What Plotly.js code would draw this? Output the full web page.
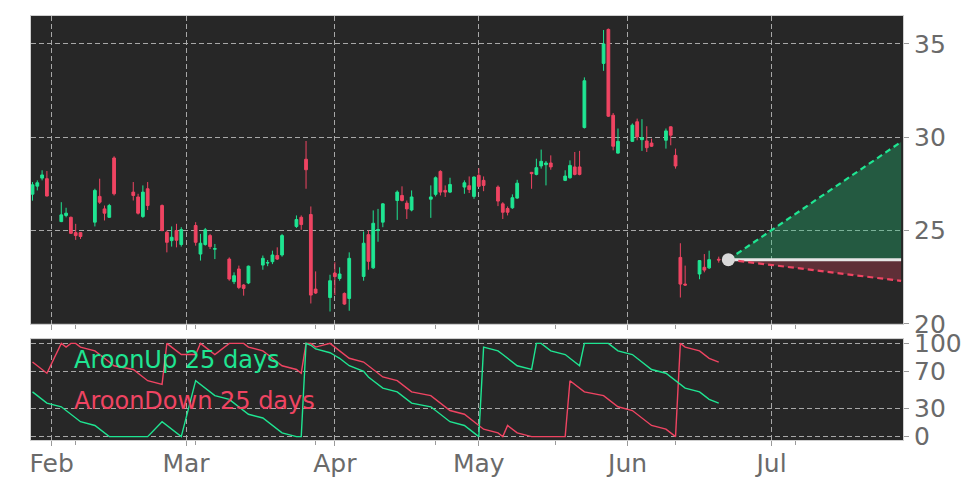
<!DOCTYPE html>
<html>
<head>
<meta charset="utf-8">
<script src="https://cdn.plot.ly/plotly-3.0.1.min.js"></script>
<style>
html,body{margin:0;padding:0;background:#ffffff;}
#chart{width:972px;height:486px;}
</style>
</head>
<body>
<div id="chart"></div>
<script>
// ---- data ----
const dates = ['2025-01-28','2025-01-29','2025-01-30','2025-01-31',
'2025-02-03','2025-02-04','2025-02-05','2025-02-06','2025-02-07',
'2025-02-10','2025-02-11','2025-02-12','2025-02-13','2025-02-14',
'2025-02-18','2025-02-19','2025-02-20','2025-02-21',
'2025-02-24','2025-02-25','2025-02-26','2025-02-27','2025-02-28',
'2025-03-03','2025-03-04','2025-03-05','2025-03-06','2025-03-07',
'2025-03-10','2025-03-11','2025-03-12','2025-03-13','2025-03-14',
'2025-03-17','2025-03-18','2025-03-19','2025-03-20','2025-03-21',
'2025-03-24','2025-03-25','2025-03-26','2025-03-27','2025-03-28',
'2025-03-31','2025-04-01','2025-04-02','2025-04-03','2025-04-04',
'2025-04-07','2025-04-08','2025-04-09','2025-04-10','2025-04-11',
'2025-04-14','2025-04-15','2025-04-16','2025-04-17',
'2025-04-21','2025-04-22','2025-04-23','2025-04-24','2025-04-25',
'2025-04-28','2025-04-29','2025-04-30','2025-05-01','2025-05-02',
'2025-05-05','2025-05-06','2025-05-07','2025-05-08','2025-05-09',
'2025-05-12','2025-05-13','2025-05-14','2025-05-15','2025-05-16',
'2025-05-19','2025-05-20','2025-05-21','2025-05-22','2025-05-23',
'2025-05-27','2025-05-28','2025-05-29','2025-05-30',
'2025-06-02','2025-06-03','2025-06-04','2025-06-05','2025-06-06',
'2025-06-09','2025-06-10','2025-06-11','2025-06-12','2025-06-13',
'2025-06-16','2025-06-17','2025-06-18','2025-06-20'];

const opens = [26.95,27.38,27.81,27.78, 25.48,25.81,25.71,24.89,24.89, 25.45,26.83,26.16,25.71,28.89,
27.06,26.8,25.75,27.24, 26.34,24.91,24.46,25.0,24.25, 25.27,23.74,24.25,24.73,24.0,
23.47,22.26,22.94,22.08,22.19, 23.15,23.26,23.33,23.66,23.69, 25.22,25.71,28.82,25.86,21.86,
21.41,22.72,22.43,21.63,21.36, 22.54,24.78,23.0,25.0,25.45, 26.61,26.88,26.47,26.1,
26.68,26.94,28.17,27.15,27.06, 27.33,27.4,26.83,27.96,27.69, 27.33,26.43,26.18,26.22,26.74,
28.12,28.01,28.46,28.53,28.62, 27.69,27.83,28.41,28.41,30.52, 33.96,35.78,31.18,29.15,
29.78,30.83,29.87,29.8,29.69, 29.84,30.56,29.03,23.56,22.13, 22.67,23.03,23.0,23.46];

const highs = [27.6,27.69,28.23,28.19, 26.52,26.22,25.75,25.36,24.89, 27.24,27.78,26.34,26.43,28.98,
27.6,26.97,27.42,27.6, 26.4,25.0,25.22,25.36,25.18, 25.45,24.82,25.14,24.82,24.28,
23.56,22.76,23.12,22.13,23.12, 23.66,23.42,23.92,24.1,24.82, 25.81,25.81,29.8,26.29,22.81,
22.63,23.3,23.03,21.68,23.83, 24.95,25.0,26.08,26.16,26.47, 27.15,27.37,26.61,27.15,
27.42,27.9,28.23,27.42,27.83, 27.69,27.9,27.9,28.34,27.9, 27.42,26.52,26.29,26.94,27.72,
28.14,28.85,29.34,28.73,29.03, 28.23,28.76,29.21,29.27,33.21, 35.75,35.83,31.3,30.47,
30.74,31.0,30.97,30.59,29.93, 30.47,30.59,29.39,24.32,23.12, 23.42,23.74,23.92,23.6];

const lows = [26.6,27.15,27.69,26.83, 25.45,25.71,24.82,24.5,24.55, 25.22,26.43,25.54,25.68,26.88,
26.61,25.86,25.68,26.1, 24.96,23.83,24.14,24.1,24.14, 24.19,23.39,24.19,24.01,23.47,
22.31,22.13,21.86,21.51,22.13, 22.9,23.09,23.2,23.42,23.6, 25.14,25.04,27.24,21.09,21.6,
20.66,21.54,22.31,21.02,20.7, 22.31,22.9,22.94,24.4,25.18, 25.57,26.56,25.62,26.03,
25.68,26.83,26.88,26.8,27.01, 26.97,27.01,26.7,27.33,27.11, 26.31,25.62,25.81,26.16,26.7,
27.24,27.96,28.32,27.42,28.26, 27.65,27.78,27.96,27.96,30.47, 33.56,31.09,29.3,29.12,
29.75,29.84,29.27,29.21,29.48, 29.39,29.57,28.32,21.41,22.04, 22.39,22.76,22.94,23.28];

const closes = [27.45,27.56,27.98,26.85, 25.84,25.93,24.85,24.73,24.68, 27.15,26.52,25.93,26.34,26.97,
26.88,25.93,27.06,26.34, 25.0,24.37,24.64,24.48,25.05, 24.37,24.32,25.04,24.14,24.03,
22.4,22.58,21.95,21.9,23.09, 23.51,23.28,23.69,23.47,24.73, 25.59,25.32,28.26,21.54,21.65,
22.31,22.53,22.67,21.06,23.51, 24.32,23.35,25.39,25.05,26.43, 27.06,26.61,26.16,26.8,
26.8,27.83,27.06,27.06,27.47, 27.56,27.2,27.87,27.37,27.42, 26.58,25.98,25.98,26.76,27.54,
28.05,28.37,28.71,28.62,28.41, 27.92,28.49,28.01,28.01,33.03, 35.0,31.13,29.52,29.78,
30.65,30.02,29.97,29.44,29.52, 30.34,30.11,28.46,22.13,22.08, 23.39,22.88,23.44,23.42];

const aroonUp = [48,44,40,36, 32,28,24,20,16, 12,8,4,0,0, 0,0,0,0, 16,12,8,4,0,
60,56,52,48,44, 40,36,32,28,24, 20,16,12,8,4, 0,0,100,98,94,
90,87,84,80,76, 70,64,60,56,52, 48,44,40,36, 32,28,24,20,16, 12,8,4,0,96,
92,88,84,80,76, 72,100,100,96,92, 88,84,80,76,100, 100,100,96,92,
88,84,80,76,72, 68,64,60,56,52, 48,44,40,36];

const aroonDown = [80,76,72,68, 100,96,100,100,96, 92,88,84,80,76, 72,68,64,60, 56,100,96,92,88,
88,100,96,92,88, 100,100,100,100,96, 92,88,84,80,76, 72,68,100,100,96,
100,96,92,88,84, 80,76,72,68,64, 60,56,52,48, 44,40,36,32,28, 24,20,16,12,8,
4,0,12,8,4, 0,0,0,0,0, 0,60,56,52,48, 44,40,36,32,
28,24,20,16,12, 8,4,0,100,96, 92,88,84,80];

const coneDates = ['2025-06-22','2025-07-28'];
const coneUpper = [23.44, 29.75];
const coneMid   = [23.44, 23.44];
const coneLower = [23.44, 22.30];

const priceTicks = [20,25,30,35];
const aroonTicks = [0,30,70,100];
const xRange = ['2025-01-27 16:30','2025-07-28 09:30'];

// ---- style ----
const GREEN = '#1fe592';
const RED = '#ef4462';
const TICKC = '#6a6a6a';
const GRIDC = '#a8a8a8';
const FONT = 'DejaVu Sans';
const TICKSIZE = 25;

const traces = [
  {type:'candlestick', x:dates, open:opens, high:highs, low:lows, close:closes,
   xaxis:'x2', yaxis:'y', whiskerwidth:0, showlegend:false, hoverinfo:'none',
   increasing:{line:{color:GREEN, width:1}, fillcolor:GREEN},
   decreasing:{line:{color:RED, width:1}, fillcolor:RED}},
  {type:'scatter', mode:'lines', x:coneDates, y:coneMid, xaxis:'x2', yaxis:'y',
   line:{width:0}, showlegend:false, hoverinfo:'none'},
  {type:'scatter', mode:'lines', x:coneDates, y:coneUpper, xaxis:'x2', yaxis:'y',
   line:{width:0}, fill:'tonexty', fillcolor:'rgba(30,200,120,0.32)', showlegend:false, hoverinfo:'none'},
  {type:'scatter', mode:'lines', x:coneDates, y:coneMid, xaxis:'x2', yaxis:'y',
   line:{width:0}, showlegend:false, hoverinfo:'none'},
  {type:'scatter', mode:'lines', x:coneDates, y:coneLower, xaxis:'x2', yaxis:'y',
   line:{width:0}, fill:'tonexty', fillcolor:'rgba(239,68,98,0.28)', showlegend:false, hoverinfo:'none'},
  {type:'scatter', mode:'lines', x:coneDates, y:coneMid, xaxis:'x2', yaxis:'y',
   line:{color:'#e6e6e6', width:3}, showlegend:false, hoverinfo:'none'},
  {type:'scatter', mode:'lines', x:coneDates, y:coneUpper, xaxis:'x2', yaxis:'y',
   line:{color:GREEN, width:2.2, dash:'6px,4px'}, showlegend:false, hoverinfo:'none'},
  {type:'scatter', mode:'lines', x:coneDates, y:coneLower, xaxis:'x2', yaxis:'y',
   line:{color:RED, width:2.2, dash:'6px,4px'}, showlegend:false, hoverinfo:'none'},
  {type:'scatter', mode:'markers', x:[coneDates[0]], y:[coneMid[0]], xaxis:'x2', yaxis:'y',
   marker:{color:'#d9d9d9', size:13}, showlegend:false, hoverinfo:'none'},
  {type:'scatter', mode:'lines', x:dates, y:aroonDown, xaxis:'x', yaxis:'y2',
   line:{color:RED, width:1.4}, showlegend:false, hoverinfo:'none'},
  {type:'scatter', mode:'lines', x:dates, y:aroonUp, xaxis:'x', yaxis:'y2',
   line:{color:GREEN, width:1.4}, showlegend:false, hoverinfo:'none'}
];

const xCommon = {
  type:'date', range:xRange, tickformat:'%b', dtick:'M1', tick0:'2025-02-01',
  ticks:'outside', ticklen:5, tickcolor:'#9a9a9a', tickwidth:1,
  showgrid:true, gridcolor:GRIDC, griddash:'5px,3px', gridwidth:1,
  showline:true, linecolor:'#cfcfcf', linewidth:1, mirror:true, zeroline:false,
  rangeslider:{visible:false},
  minor:{ticks:'outside', ticklen:4, tickcolor:'#9a9a9a', tick0:'2025-02-06', dtick:25*86400000, showgrid:false},
  tickfont:{family:FONT, size:TICKSIZE, color:TICKC}
};

const layout = {
  width:972, height:486,
  margin:{l:31, r:69, t:16, b:46},
  paper_bgcolor:'#ffffff', plot_bgcolor:'#272727',
  boxgap:0.18,
  showlegend:false,
  font:{family:FONT, size:TICKSIZE, color:TICKC},
  xaxis: Object.assign({}, xCommon, {domain:[0,1], anchor:'y2', ticklabelstandoff:-4}),
  xaxis2: Object.assign({}, xCommon, {domain:[0,1], anchor:'y', matches:'x', showticklabels:false}),
  yaxis:{domain:[0.274,1], anchor:'x2', side:'right', range:[20,36.5], tickvals:priceTicks,
    ticks:'outside', ticklen:5, tickcolor:'#9a9a9a', showgrid:true, gridcolor:GRIDC, griddash:'5px,3px',
    showline:true, linecolor:'#cfcfcf', mirror:true, zeroline:false,
    tickfont:{family:FONT, size:TICKSIZE, color:TICKC}},
  yaxis2:{domain:[0,0.238], anchor:'x', side:'right', range:[-3.6,104.6], tickvals:aroonTicks,
    ticks:'outside', ticklen:5, tickcolor:'#9a9a9a', showgrid:true, gridcolor:GRIDC, griddash:'5px,3px',
    showline:true, linecolor:'#cfcfcf', mirror:true, zeroline:false,
    tickfont:{family:FONT, size:TICKSIZE, color:TICKC}},
  annotations:[
    {text:'AroonUp 25 days', xref:'paper', yref:'paper', x:0.047, y:0.1887, xanchor:'left', yanchor:'middle',
     showarrow:false, font:{family:FONT, size:24, color:GREEN}},
    {text:'AroonDown 25 days', xref:'paper', yref:'paper', x:0.047, y:0.092, xanchor:'left', yanchor:'middle',
     showarrow:false, font:{family:FONT, size:24, color:RED}}
  ]
};

Plotly.newPlot('chart', traces, layout, {staticPlot:true, displayModeBar:false});
</script>
</body>
</html>
